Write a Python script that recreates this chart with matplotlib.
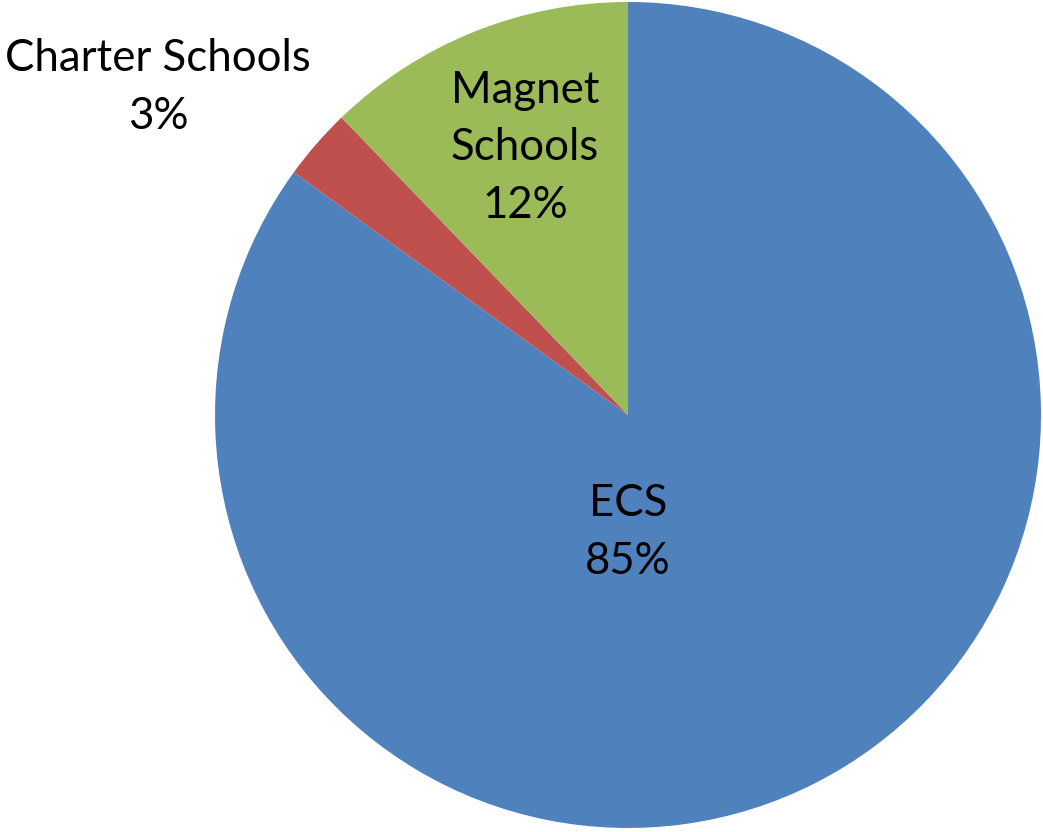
import matplotlib
matplotlib.use("Agg")
import matplotlib.pyplot as plt

labels = ["ECS", "Charter Schools", "Magnet Schools"]
shares = [85.0, 2.8, 12.2]
shown_pct = ["85%", "3%", "12%"]
colors = ["#4F81BD", "#C0504D", "#9BBB59"]

plt.rcParams['font.family'] = ['Lato', 'DejaVu Sans']

fig = plt.figure(figsize=(10.43, 8.32), dpi=100)
ax = fig.add_axes([0, 0, 1, 1])
ax.pie(shares, colors=colors, startangle=90, counterclock=False,
       wedgeprops=dict(linewidth=0))
ax.set_xlim(-1.5206, 1.0048)
ax.set_ylim(-1.0097, 1.0048)
ax.set_aspect('auto')
ax.axis('off')

fs = 31.5
ls = 1.5
ax.text(0.0, -0.285, labels[0] + "\n" + shown_pct[0], ha='center', va='center',
        fontsize=fs, linespacing=ls)
ax.text(-1.138, 0.793, labels[1] + "\n" + shown_pct[1], ha='center', va='center',
        fontsize=fs, linespacing=ls)
ax.text(-0.249, 0.647, "Magnet\nSchools\n" + shown_pct[2], ha='center', va='center',
        fontsize=fs, linespacing=ls)

fig.savefig("out.png", dpi=100)
